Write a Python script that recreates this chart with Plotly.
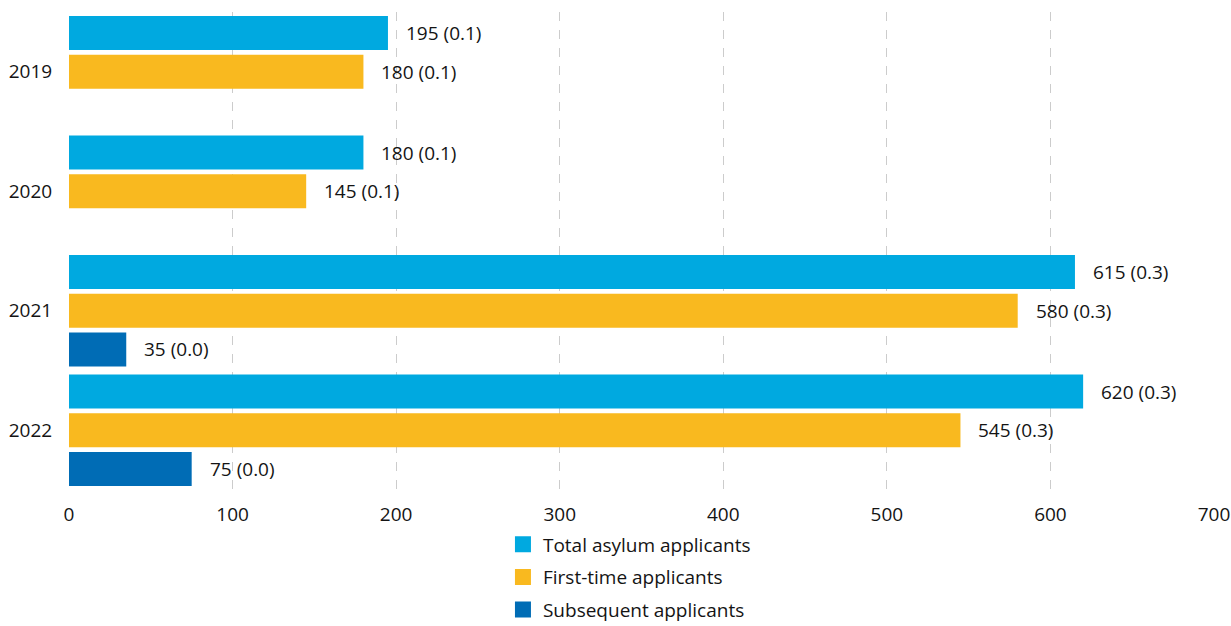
import plotly.graph_objects as go

years = ["2019", "2020", "2021", "2022"]

total = [195, 180, 615, 620]
total_share = ["0.1", "0.1", "0.3", "0.3"]

first_time = [180, 145, 580, 545]
first_share = ["0.1", "0.1", "0.3", "0.3"]

subsequent = [None, None, 35, 75]
subsequent_share = [None, None, "0.0", "0.0"]

series = [
    ("Total asylum applicants", total, total_share, "#00A9E0"),
    ("First-time applicants", first_time, first_share, "#F9B91F"),
    ("Subsequent applicants", subsequent, subsequent_share, "#006CB5"),
]

FONT = "Open Sans"
FS = 19
TEXT = "#141414"
BARGAP = 0.03

fig = go.Figure()
annotations = []
n = len(series)
slot = (1 - BARGAP) / n

for k, (name, vals, shares, color) in enumerate(series):
    fig.add_trace(go.Bar(
        name=name,
        y=years,
        x=vals,
        orientation="h",
        marker=dict(color=color, line=dict(width=0)),
        showlegend=False,
        hoverinfo="skip",
    ))
    # legend entry with a larger square swatch
    fig.add_trace(go.Scatter(
        name=name,
        x=[None], y=[None],
        mode="markers",
        marker=dict(symbol="square", size=16, color=color),
        showlegend=True,
        legendgroup=name,
    ))
    offset = (k - (n - 1) / 2) * slot
    for i, (v, s) in enumerate(zip(vals, shares)):
        if v is None:
            continue
        annotations.append(dict(
            x=v, y=i + offset, xref="x", yref="y",
            text=f"{v} ({s})",
            showarrow=False, xanchor="left", yanchor="middle",
            xshift=16,
            font=dict(family=FONT, size=FS, color=TEXT),
        ))

fig.update_layout(
    width=1231, height=626,
    margin=dict(l=69, r=17, t=12, b=136, autoexpand=False),
    paper_bgcolor="white",
    plot_bgcolor="white",
    barmode="group",
    bargap=BARGAP,
    bargroupgap=0.12,
    font=dict(family=FONT, size=FS, color=TEXT),
    annotations=annotations,
    legend=dict(
        orientation="v",
        x=0.379, xanchor="left",
        y=-0.074, yanchor="top",
        font=dict(family=FONT, size=FS, color=TEXT),
        itemwidth=30,
        tracegroupgap=5,
        bgcolor="rgba(0,0,0,0)",
    ),
    xaxis=dict(
        range=[0, 700],
        tickvals=[0, 100, 200, 300, 400, 500, 600, 700],
        showgrid=True,
        gridcolor="#cccccc",
        griddash="dash",
        gridwidth=1,
        zeroline=False,
        showline=False,
        automargin=False,
        ticks="outside", ticklen=7, tickcolor="rgba(0,0,0,0)",
        tickfont=dict(family=FONT, size=FS, color=TEXT),
        fixedrange=True,
    ),
    yaxis=dict(
        type="category",
        categoryorder="array",
        categoryarray=years,
        autorange="reversed",
        showgrid=False,
        zeroline=False,
        showline=False,
        automargin=False,
        ticks="outside", ticklen=12, tickcolor="rgba(0,0,0,0)",
        tickfont=dict(family=FONT, size=FS, color=TEXT),
        fixedrange=True,
    ),
)

fig.write_html("out.html")
